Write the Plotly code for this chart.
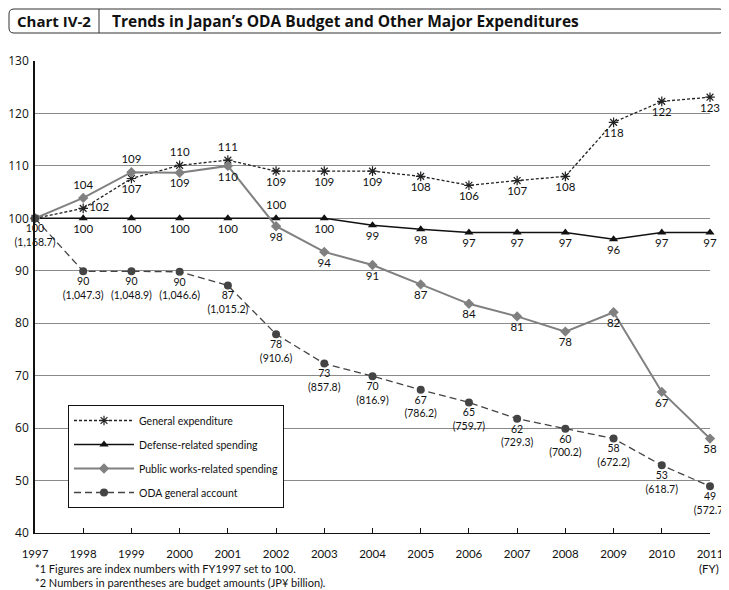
import plotly.graph_objects as go

years = list(range(1997, 2012))

general = [100, 101.9, 107.6, 110.1, 111.1, 109.0, 109.0, 109.0, 108.0, 106.3, 107.2, 108.0, 118.3, 122.3, 123.1]
general_lbl = ["", "102", "107", "110", "111", "109", "109", "109", "108", "106", "107", "108", "118", "122", "123"]

defense = [100, 100, 100, 100, 100, 100, 100, 98.7, 97.9, 97.3, 97.3, 97.3, 96.0, 97.3, 97.3]
defense_lbl = ["", "100", "100", "100", "100", "100", "100", "99", "98", "97", "97", "97", "96", "97", "97"]

public = [100, 103.9, 108.8, 108.7, 110.0, 98.5, 93.6, 91.1, 87.4, 83.7, 81.3, 78.4, 82.1, 66.9, 58.0]
public_lbl = ["", "104", "109", "109", "110", "98", "94", "91", "87", "84", "81", "78", "82", "67", "58"]

oda = [100, 89.9, 89.9, 89.8, 87.2, 77.9, 72.3, 69.9, 67.3, 64.9, 61.8, 59.9, 58.0, 52.9, 48.9]
oda_idx = ["100", "90", "90", "90", "87", "78", "73", "70", "67", "65", "62", "60", "58", "53", "49"]
oda_budget = ["1,168.7", "1,047.3", "1,048.9", "1,046.6", "1,015.2", "910.6", "857.8", "816.9",
              "786.2", "759.7", "729.3", "700.2", "672.2", "618.7", "572.7"]

NARROW = "Lato"
FONT = "Open Sans"

# the page puts the figure 8px in from the top-left, so work in window pixels
OFF = 8
W, H = 729 - OFF, 590 - OFF
L, R, T, B = 35, 710, 61, 533   # plot area in window pixels


def px(x):
    return (x - L) / (R - L)


def py(y):
    return (B - y) / (B - T)


gen_pos = ["bottom center"] * 15
gen_pos[1] = "middle right"
gen_pos[3] = "top center"
gen_pos[4] = "top center"

def_pos = ["bottom center"] * 15
def_pos[5] = "top center"

pub_pos = ["bottom center"] * 15
pub_pos[1] = "top center"
pub_pos[2] = "top center"

lblfont = dict(family=NARROW, size=11.5, color="#111111")

fig = go.Figure()

fig.add_trace(go.Scatter(
    x=years, y=general, name="General expenditure", legendgroup="a",
    mode="lines+markers+text", text=general_lbl, textposition=gen_pos,
    line=dict(color="#222222", width=1.3, dash="3px,2px"),
    marker=dict(symbol="asterisk-open", size=8, color="#222222", line=dict(width=1.2, color="#222222")),
    textfont=lblfont, cliponaxis=False,
))
fig.add_trace(go.Scatter(
    x=years, y=defense, name="Defense-related spending", legendgroup="b",
    mode="lines+markers+text", text=defense_lbl, textposition=def_pos,
    line=dict(color="#111111", width=1.5),
    marker=dict(symbol="triangle-up", size=8, color="#111111"),
    textfont=lblfont, cliponaxis=False,
))
fig.add_trace(go.Scatter(
    x=years, y=public, name="Public works-related spending", legendgroup="c",
    mode="lines+markers+text", text=public_lbl, textposition=pub_pos,
    line=dict(color="#808080", width=2),
    marker=dict(symbol="diamond", size=8, color="#808080"),
    textfont=lblfont, cliponaxis=False,
))
fig.add_trace(go.Scatter(
    x=years, y=oda, name="ODA general account", legendgroup="d",
    mode="lines+markers+text",
    text=[f"{a}<br>({b})" for a, b in zip(oda_idx, oda_budget)],
    textposition="bottom center",
    line=dict(color="#444444", width=1.3, dash="7px,4px"),
    marker=dict(symbol="circle", size=8, color="#444444"),
    textfont=dict(family=NARROW, size=10.5, color="#111111"), cliponaxis=False,
))

shapes = []
# title box
r = 5
x0, x1, y0, y1 = px(9), px(724), py(9), py(33)
rx = r / (R - L)
ry = r / (B - T)
shapes.append(dict(
    type="path", xref="paper", yref="paper",
    path=(f"M {x0+rx},{y0} L {x1-rx},{y0} Q {x1},{y0} {x1},{y0-ry} "
          f"L {x1},{y1+ry} Q {x1},{y1} {x1-rx},{y1} L {x0+rx},{y1} "
          f"Q {x0},{y1} {x0},{y1+ry} L {x0},{y0-ry} Q {x0},{y0} {x0+rx},{y0} Z"),
    line=dict(color="#333333", width=1),
))
shapes.append(dict(type="line", xref="paper", yref="paper",
                   x0=px(99), x1=px(99), y0=py(9), y1=py(33),
                   line=dict(color="#333333", width=1)))

annotations = [
    dict(text="<b>Chart IV-2</b>", x=px(54), y=py(21), xref="paper", yref="paper",
         showarrow=False, xanchor="center", yanchor="middle",
         font=dict(family=FONT, size=15, color="#111111")),
    dict(text="<b>Trends in Japan\u2019s ODA Budget and Other Major Expenditures</b>",
         x=px(110), y=py(21), xref="paper", yref="paper",
         showarrow=False, xanchor="left", yanchor="middle",
         font=dict(family=FONT, size=15.5, color="#111111")),
    dict(text="(FY)", x=px(709), y=py(568), xref="paper", yref="paper",
         showarrow=False, xanchor="center", yanchor="middle",
         font=dict(family=NARROW, size=11.5, color="#111111")),
    dict(text="*1 Figures are index numbers with FY1997 set to 100.", x=px(33), y=py(568),
         xref="paper", yref="paper", showarrow=False, xanchor="left", yanchor="middle",
         font=dict(family=NARROW, size=11, color="#111111")),
    dict(text="*2 Numbers in parentheses are budget amounts (JP\u00a5 billion).", x=px(33), y=py(582),
         xref="paper", yref="paper", showarrow=False, xanchor="left", yanchor="middle",
         font=dict(family=NARROW, size=11, color="#111111")),
]

fig.update_layout(
    width=W, height=H,
    margin=dict(l=L - OFF, r=729 - R, t=T - OFF, b=590 - B, autoexpand=False),
    paper_bgcolor="white", plot_bgcolor="white",
    font=dict(family=NARROW, size=12, color="#111111"),
    showlegend=True,
    legend=dict(
        x=px(68), y=py(405), xanchor="left", yanchor="top",
        bordercolor="#111111", borderwidth=1, bgcolor="white",
        font=dict(family=NARROW, size=10.5, color="#111111"),
        itemwidth=60, tracegroupgap=5,
    ),
    xaxis=dict(
        range=[1997, 2011], tickmode="array", tickvals=years,
        ticktext=[str(y) for y in years],
        showgrid=False, showline=True, linecolor="#111111", linewidth=1,
        ticks="inside", ticklen=5, tickcolor="#111111",
        ticklabelstandoff=10, zeroline=False, automargin=False,
        tickfont=dict(family=NARROW, size=11.5),
    ),
    yaxis=dict(
        range=[40, 130], tickmode="linear", tick0=40, dtick=10,
        showgrid=True, gridcolor="#8a8a8a", gridwidth=1,
        showline=True, linecolor="#111111", linewidth=1.5,
        ticks="", zeroline=False, ticklabelstandoff=2, automargin=False,
        tickfont=dict(family=FONT, size=12),
    ),
    shapes=shapes,
    annotations=annotations,
)

fig.write_html("out.html")
